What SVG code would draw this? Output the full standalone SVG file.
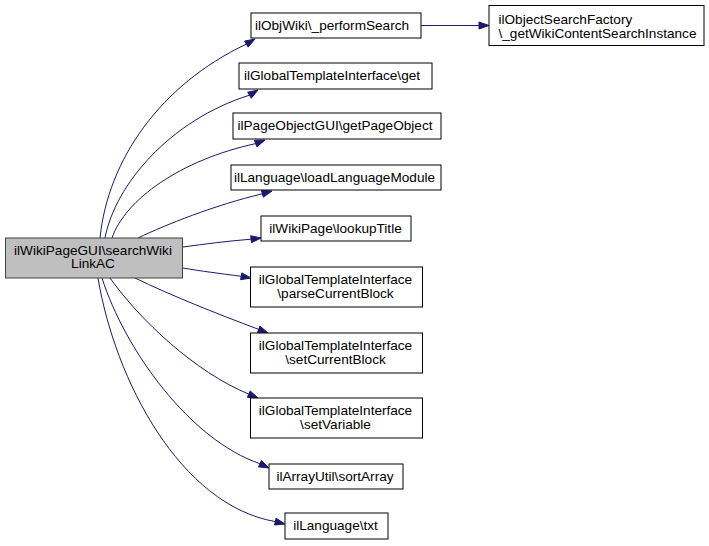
<svg xmlns="http://www.w3.org/2000/svg" width="709" height="546" viewBox="0 0 709 546">
<style>
.n rect{fill:#ffffff;stroke:#000000;stroke-width:1}
.n.root rect{fill:#bfbfbf;stroke:#404040}
.n text{font-family:"Liberation Sans",Arial,sans-serif;font-size:13.6px;fill:#000000;text-anchor:middle}
.n text.l{text-anchor:start}
#edges path{fill:none;stroke:#191970;stroke-width:1}
#edges polygon{fill:#191970;stroke:#191970;stroke-width:1}
</style>
<rect x="0" y="0" width="709" height="546" fill="#ffffff"/>
<g id="edges">
<path d="M100,238 C108,160 160,85 246.4,44.1"/>
<polygon points="248.2,47.1 255,39 244.6,41.1"/>
<path d="M105,238 C115,185 170,120 249.5,95.2"/>
<polygon points="251.3,98.2 258,90 247.7,92.2"/>
<path d="M112,238 C125,200 180,160 255.7,143.6"/>
<polygon points="256.9,146.9 265,140 254.4,140.3"/>
<path d="M138,238 C165,225 215,205 262.4,193.8"/>
<polygon points="263.4,197.2 272,191 261.4,190.4"/>
<path d="M183,247 C205,244 228,241 251.1,239.2"/>
<polygon points="251.5,242.7 261,238 250.7,235.7"/>
<path d="M183,268 C200,271 220,273.5 241.2,276.3"/>
<polygon points="240.6,279.7 251,278 241.8,272.9"/>
<path d="M135,278 C170,295 215,313 258.7,329.4"/>
<polygon points="257.4,332.7 268,333 260,326.1"/>
<path d="M110,278 C140,320 195,372 248.8,394.1"/>
<polygon points="247.4,397.3 258,398 250.2,390.9"/>
<path d="M102,278 C125,350 190,440 260,463.7"/>
<polygon points="258.5,466.9 269,468 261.5,460.5"/>
<path d="M98,278 C115,380 180,505 275.3,521.6"/>
<polygon points="274.5,525 285,524 276.1,518.2"/>
<path d="M421,25.5 L479,25.5"/>
<polygon points="479,29 489,25.5 479,22"/>
</g>
<g id="node-root" class="n root">
<rect x="5.5" y="238" width="177" height="40"/>
<text x="93" y="254.5">ilWikiPageGUI\searchWiki</text>
<text x="93" y="268">LinkAC</text>
</g>
<g id="node-performSearch" class="n">
<rect x="251" y="13" width="170" height="25"/>
<text x="332" y="29.5">ilObjWiki\_performSearch</text>
</g>
<g id="node-searchFactory" class="n">
<rect x="489" y="5.5" width="215" height="40"/>
<text class="l" x="498.5" y="24">ilObjectSearchFactory</text>
<text class="l" x="498.5" y="37.5">\_getWikiContentSearchInstance</text>
</g>
<g id="node-get" class="n">
<rect x="239" y="63" width="193" height="26"/>
<text x="332" y="79.5">ilGlobalTemplateInterface\get</text>
</g>
<g id="node-getPageObject" class="n">
<rect x="233" y="113" width="208" height="26"/>
<text x="335" y="129.5">ilPageObjectGUI\getPageObject</text>
</g>
<g id="node-loadLanguageModule" class="n">
<rect x="231" y="165" width="210" height="25"/>
<text x="334.5" y="181.5">ilLanguage\loadLanguageModule</text>
</g>
<g id="node-lookupTitle" class="n">
<rect x="261" y="216" width="150" height="25"/>
<text x="335.5" y="232.5">ilWikiPage\lookupTitle</text>
</g>
<g id="node-parseCurrentBlock" class="n">
<rect x="250.5" y="267" width="172" height="40"/>
<text x="335.5" y="284">ilGlobalTemplateInterface</text>
<text x="335.5" y="297.5">\parseCurrentBlock</text>
</g>
<g id="node-setCurrentBlock" class="n">
<rect x="250.5" y="333" width="172" height="40"/>
<text x="335.5" y="350">ilGlobalTemplateInterface</text>
<text x="335.5" y="363.5">\setCurrentBlock</text>
</g>
<g id="node-setVariable" class="n">
<rect x="250.5" y="398" width="172" height="40"/>
<text x="335.5" y="415">ilGlobalTemplateInterface</text>
<text x="335.5" y="428.5">\setVariable</text>
</g>
<g id="node-sortArray" class="n">
<rect x="269" y="464" width="134" height="25"/>
<text x="335" y="480.5">ilArrayUtil\sortArray</text>
</g>
<g id="node-txt" class="n">
<rect x="285" y="513" width="103" height="26"/>
<text x="335.5" y="529.5">ilLanguage\txt</text>
</g>
</svg>
